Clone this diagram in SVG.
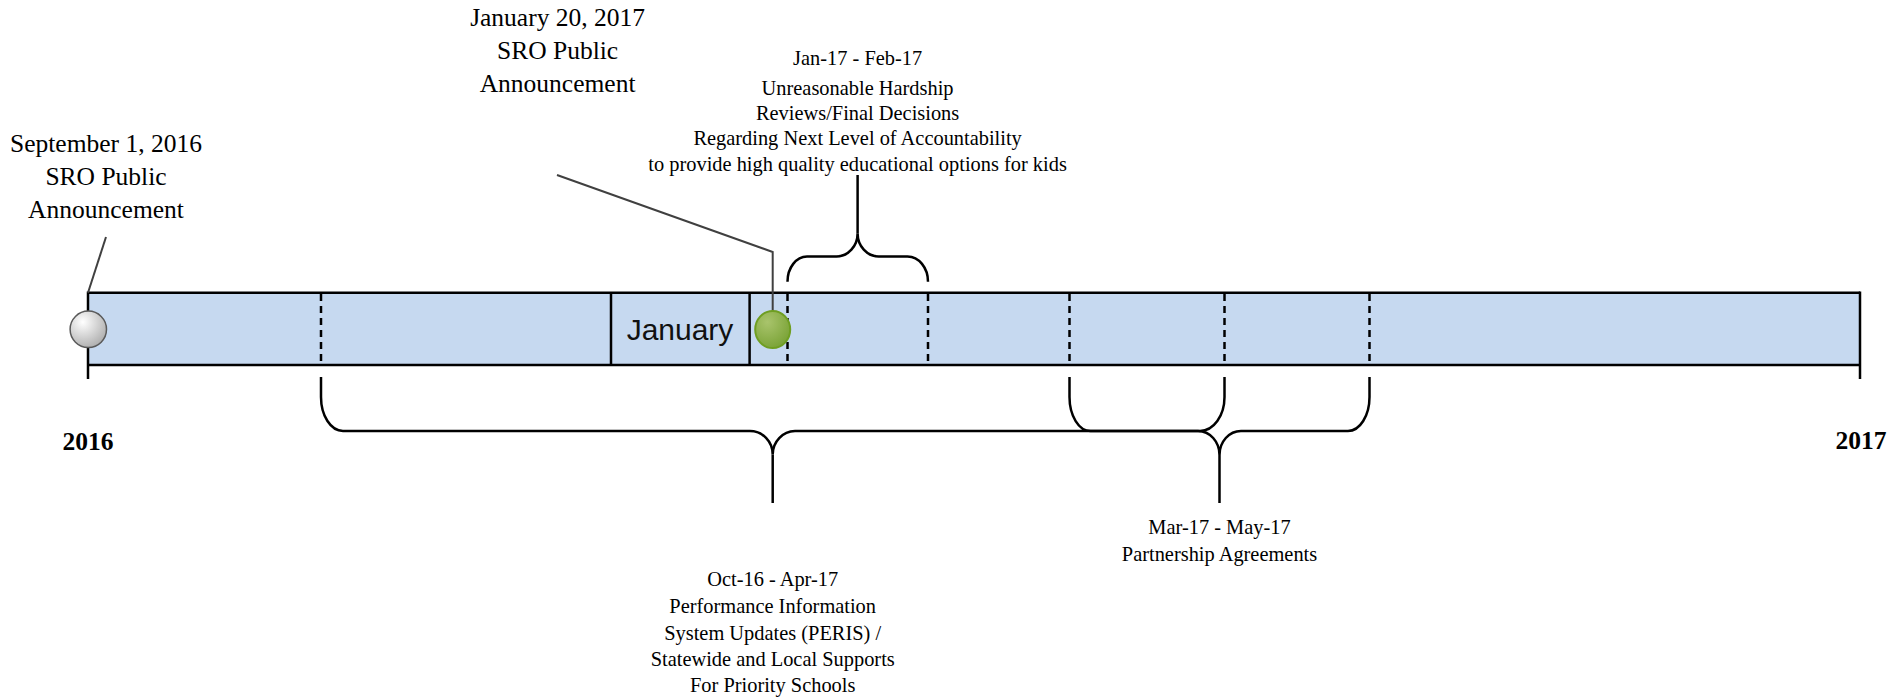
<svg xmlns="http://www.w3.org/2000/svg" width="1893" height="699" viewBox="0 0 1893 699">
<defs>
<radialGradient id="gGray" cx="0.35" cy="0.3" r="0.8">
<stop offset="0" stop-color="#ffffff"/>
<stop offset="1" stop-color="#a8a8a8"/>
</radialGradient>
<radialGradient id="gGreen" cx="0.35" cy="0.3" r="0.8">
<stop offset="0" stop-color="#a9c46c"/>
<stop offset="1" stop-color="#76a032"/>
</radialGradient>
<style>
.lbl{font-family:"Liberation Serif","Times New Roman",serif;font-size:25.5px;fill:#000;text-anchor:middle}
.rng{font-family:"Liberation Serif","Times New Roman",serif;font-size:20.4px;fill:#000;text-anchor:middle}
.yr{font-family:"Liberation Serif","Times New Roman",serif;font-size:25.5px;font-weight:bold;fill:#000;text-anchor:middle}
.mon{font-family:"Liberation Sans",Arial,sans-serif;font-size:30px;fill:#111;text-anchor:middle}
.edge{stroke:#000;stroke-width:2.5;fill:none}
.dash{stroke:#000;stroke-width:2.5;stroke-dasharray:7 5;fill:none}
.brace{stroke:#000;stroke-width:2.5;fill:none}
.lead{stroke:#404040;stroke-width:2;fill:none}
</style>
</defs>
<g id="timeline-bar">
<rect x="88" y="292.7" width="1772" height="72.3" fill="#c6d9f0" stroke="none"/>
<line class="edge" x1="88" y1="292.7" x2="1860" y2="292.7"/>
<line class="edge" x1="88" y1="365" x2="1860" y2="365"/>
<line class="edge" x1="88" y1="291.5" x2="88" y2="379"/>
<line class="edge" x1="1860" y1="291.5" x2="1860" y2="379"/>
<line class="dash" x1="321" y1="294" x2="321" y2="364"/>
<line class="dash" x1="787.5" y1="294" x2="787.5" y2="364"/>
<line class="dash" x1="928" y1="294" x2="928" y2="364"/>
<line class="dash" x1="1069.5" y1="294" x2="1069.5" y2="364"/>
<line class="dash" x1="1224.5" y1="294" x2="1224.5" y2="364"/>
<line class="dash" x1="1369.5" y1="294" x2="1369.5" y2="364"/>
</g>
<g id="january-box">
<line class="edge" x1="611" y1="292.7" x2="611" y2="365"/>
<line class="edge" x1="749.6" y1="292.7" x2="749.6" y2="365"/>
<text class="mon" x="680" y="340">January</text>
</g>
<g id="year-2016"><text class="yr" x="88" y="450">2016</text></g>
<g id="year-2017"><text class="yr" x="1861" y="449">2017</text></g>
<g id="connectors">
<polyline class="lead" points="88,292.7 106,237"/>
<polyline class="lead" points="557,175 772.7,252 772.7,312"/>
<path class="brace" d="M321 377 V397 A22 34 0 0 0 343 431 H750 A22.7 23.5 0 0 1 772.7 454.5 A22.7 23.5 0 0 1 795 431 H1200 A24.5 34 0 0 0 1224.5 397 V377"/>
<path class="brace" d="M772.7 454.5 V503"/>
<path class="brace" d="M1069.5 377 V397 A21 34 0 0 0 1090.5 431 H1198 A21.5 24 0 0 1 1219.5 455 A21.5 24 0 0 1 1241 431 H1348 A21.5 34 0 0 0 1369.5 397 V377"/>
<path class="brace" d="M1219.5 455 V503"/>
<path class="brace" d="M787.5 281.7 A19.5 25.2 0 0 1 807 256.5 H836.5 A21.1 23.2 0 0 0 857.6 233.3 A21.1 23.2 0 0 0 878.7 256.5 H907.5 A20.5 25.2 0 0 1 928 281.7"/>
<path class="brace" d="M857.6 233.3 V175"/>
</g>
<g id="event-sep-2016">
<circle cx="88.3" cy="329.3" r="18.2" fill="url(#gGray)" stroke="#5a5a5a" stroke-width="1.5"/>
<text class="lbl" x="106" y="152">September 1, 2016</text>
<text class="lbl" x="106" y="185">SRO Public</text>
<text class="lbl" x="106" y="218">Announcement</text>
</g>
<g id="event-jan-2017">
<ellipse cx="772.7" cy="329.5" rx="17.5" ry="18.6" fill="url(#gGreen)" stroke="#6f9e22" stroke-width="2"/>
<text class="lbl" x="557.6" y="25.5">January 20, 2017</text>
<text class="lbl" x="557.6" y="59">SRO Public</text>
<text class="lbl" x="557.6" y="92">Announcement</text>
</g>
<g id="range-jan-feb">
<text class="rng" x="857.6" y="64.5">Jan-17 - Feb-17</text>
<text class="rng" x="857.6" y="94.5">Unreasonable Hardship</text>
<text class="rng" x="857.6" y="119.5">Reviews/Final Decisions</text>
<text class="rng" x="857.6" y="145">Regarding Next Level of Accountability</text>
<text class="rng" x="857.6" y="170.5">to provide high quality educational options for kids</text>
</g>
<g id="range-oct-apr">
<text class="rng" x="772.7" y="586">Oct-16 - Apr-17</text>
<text class="rng" x="772.7" y="613">Performance Information</text>
<text class="rng" x="772.7" y="639.5">System Updates (PERIS) /</text>
<text class="rng" x="772.7" y="666">Statewide and Local Supports</text>
<text class="rng" x="772.7" y="692">For Priority Schools</text>
</g>
<g id="range-mar-may">
<text class="rng" x="1219.5" y="534">Mar-17 - May-17</text>
<text class="rng" x="1219.5" y="561">Partnership Agreements</text>
</g>
</svg>
